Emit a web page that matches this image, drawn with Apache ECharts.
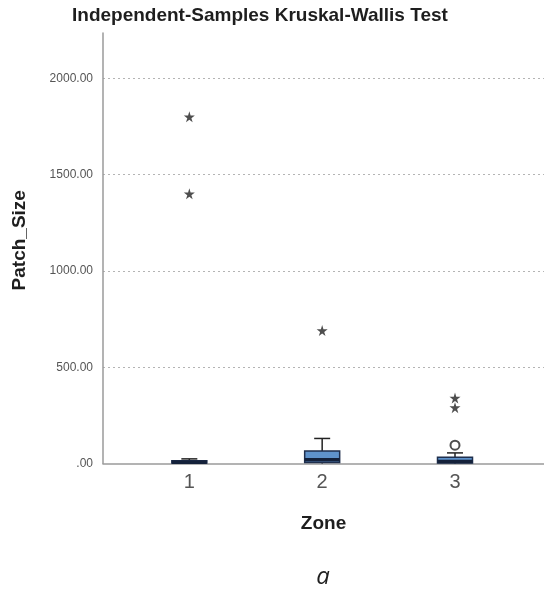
<!DOCTYPE html>
<html>
<head>
<meta charset="utf-8">
<script src="https://cdn.jsdelivr.net/npm/echarts@6/dist/echarts.min.js"></script>
<style>
  html, body { margin: 0; padding: 0; background: #ffffff; }
  #chart { width: 544px; height: 590px; }
</style>
</head>
<body>
<div id="chart"></div>
<script>
// ---- data ----
const zones = ['1', '2', '3'];
const zonePos = [1, 2, 3];
const boxMin = [0, 0, 0];
const boxQ1 = [2, 5, 3];
const boxMedian = [6, 20, 10];
const boxQ3 = [14, 65, 32];
const boxMax = [24, 130, 55];
const extremeZone = [1, 1, 2, 3, 3];
const extremeValue = [1800, 1400, 690, 340, 290];
const outlierZone = [3];
const outlierValue = [95];
const yTickValues = [0, 500, 1000, 1500, 2000];

const FONT = '"Liberation Sans", Arial, sans-serif';

const boxData = zonePos.map((p, i) => [p, boxMin[i], boxQ1[i], boxMedian[i], boxQ3[i], boxMax[i]]);
const extremeData = extremeZone.map((z, i) => [z, extremeValue[i]]);
const outlierData = outlierZone.map((z, i) => [z, outlierValue[i]]);

const chart = echarts.init(document.getElementById('chart'), null, { renderer: 'canvas' });

const option = {
  backgroundColor: '#ffffff',
  animation: false,
  title: {
    text: 'Independent-Samples Kruskal-Wallis Test',
    left: 72,
    top: 6,
    padding: 0,
    textStyle: { fontFamily: FONT, fontSize: 19, fontWeight: 'bold', color: '#1e1e1e' }
  },
  graphic: [{
    type: 'text',
    x: 323,
    y: 577,
    style: {
      text: 'a',
      font: 'italic 24px "Open Sans", "Liberation Sans", sans-serif',
      fill: '#1e1e1e',
      align: 'center',
      verticalAlign: 'middle'
    }
  }],
  grid: { left: 103, right: 0, top: 33, bottom: 126.5, containLabel: false },
  xAxis: {
    type: 'value',
    min: 0.35,
    max: 3.67,
    name: 'Zone',
    nameLocation: 'middle',
    nameGap: 51,
    nameTextStyle: { fontFamily: FONT, fontSize: 19, fontWeight: 'bold', color: '#1e1e1e' },
    axisLine: { show: true, lineStyle: { color: '#9a9a9a', width: 1.5 } },
    axisTick: { show: false },
    splitLine: { show: false },
    axisLabel: {
      customValues: zonePos,
      margin: 9,
      fontFamily: FONT,
      fontSize: 20,
      color: '#555555',
      formatter: v => { const i = zonePos.indexOf(v); return i >= 0 ? zones[i] : ''; }
    }
  },
  yAxis: {
    type: 'value',
    min: 0,
    max: 2235,
    interval: 500,
    name: 'Patch_Size',
    nameLocation: 'middle',
    nameGap: 74,
    nameTextStyle: { fontFamily: FONT, fontSize: 19, fontWeight: 'bold', color: '#1e1e1e', padding: [0, 0, 0, 16] },
    axisLine: { show: true, lineStyle: { color: '#9a9a9a', width: 1.5 } },
    axisTick: { show: false },
    splitLine: {
      show: true,
      showMinLine: false,
      showMaxLine: false,
      lineStyle: { color: '#b4b4b4', type: [2, 3], width: 1 }
    },
    axisLabel: {
      showMaxLabel: false,
      margin: 10,
      fontFamily: FONT,
      fontSize: 12,
      color: '#555555',
      formatter: v => (yTickValues.indexOf(v) < 0 ? '' : (v === 0 ? '.00' : v.toFixed(2)))
    }
  },
  series: [
    {
      type: 'custom',
      name: 'box',
      data: boxData,
      encode: { x: 0, y: [1, 2, 3, 4, 5] },
      renderItem: function (params, api) {
        const x = api.value(0);
        const c = v => api.coord([x, v]);
        const pMin = c(api.value(1)), pQ1 = c(api.value(2)), pMed = c(api.value(3)),
              pQ3 = c(api.value(4)), pMax = c(api.value(5));
        const cx = pMed[0];
        const bw = 35, cw = 16;
        const ws = { stroke: '#222222', lineWidth: 1.5 };
        return {
          type: 'group',
          children: [
            { type: 'line', shape: { x1: cx, y1: pQ3[1], x2: cx, y2: pMax[1] }, style: ws },
            { type: 'line', shape: { x1: cx - cw / 2, y1: pMax[1], x2: cx + cw / 2, y2: pMax[1] }, style: ws },
            { type: 'line', shape: { x1: cx, y1: pQ1[1], x2: cx, y2: pMin[1] }, style: ws },
            { type: 'rect', shape: { x: cx - bw / 2, y: pQ3[1], width: bw, height: pQ1[1] - pQ3[1] },
              style: { fill: '#5f93cc', stroke: '#1f2f4d', lineWidth: 1.5 } },
            { type: 'line', shape: { x1: cx - bw / 2, y1: pMed[1], x2: cx + bw / 2, y2: pMed[1] },
              style: { stroke: '#14213a', lineWidth: 3.5 } }
          ]
        };
      },
      z: 3
    },
    {
      type: 'scatter',
      name: 'extreme',
      data: extremeData,
      symbol: 'path://M50,0 L61,35 L98,35 L68,57 L79,91 L50,70 L21,91 L32,57 L2,35 L39,35 Z',
      symbolSize: 11,
      itemStyle: { color: '#222222' },
      z: 4
    },
    {
      type: 'scatter',
      name: 'outlier',
      data: outlierData,
      symbol: 'emptyCircle',
      symbolSize: 9,
      itemStyle: { color: '#222222', borderWidth: 1.8 },
      z: 4
    }
  ]
};

chart.setOption(option);
</script>
</body>
</html>
